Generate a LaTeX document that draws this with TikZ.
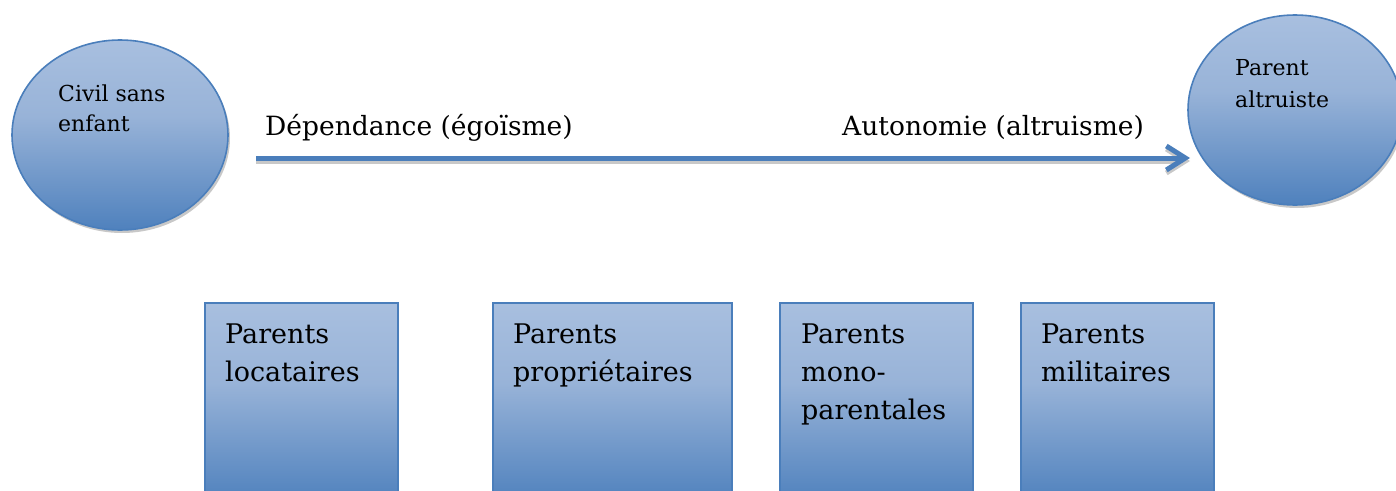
\documentclass[tikz,border=0pt]{standalone}
\usepackage{fontspec}
\setmainfont{DejaVu Serif}
\usetikzlibrary{shapes.geometric,arrows.meta}
\definecolor{otop}{RGB}{168,191,223}
\definecolor{omid}{RGB}{152,179,216}
\definecolor{obot}{RGB}{79,129,189}
\definecolor{oline}{RGB}{74,126,187}
\definecolor{oshadow}{RGB}{200,200,200}
\pgfdeclareverticalshading{officeblue}{100bp}{color(0bp)=(obot); color(25bp)=(obot); color(55bp)=(omid); color(75bp)=(otop); color(100bp)=(otop)}
\tikzset{
  blob/.style={ellipse, draw=oline, line width=1.6pt, shading=officeblue, inner sep=0pt},
  blobshadow/.style={ellipse, fill=oshadow, draw=none, inner sep=0pt},
  card/.style={rectangle, draw=oline, line width=1.6pt, shading=officeblue, inner sep=0pt, anchor=north west, minimum height=200pt},
  smalltxt/.style={inner sep=0pt, anchor=base west, align=left, font=\fontsize{22}{30}\selectfont},
  midtxt/.style={inner sep=0pt, anchor=base west, font=\fontsize{26.5}{32}\selectfont},
  boxtxt/.style={inner sep=0pt, anchor=base west, align=left, font=\fontsize{27}{38}\selectfont},
  tipstyle/.style={-{Straight Barb[length=19pt,width=24pt,line cap=butt,line join=miter]}},
}
\begin{document}
\begin{tikzpicture}[x=1pt,y=-1pt]
\useasboundingbox (0,0) rectangle (1396,490);
\clip (0,0) rectangle (1396,490);
% left circle
\node[blobshadow, minimum width=216pt, minimum height=190pt] (s1) at (122,138) {};
\node[blob, minimum width=216pt, minimum height=190pt] (c1) at (120,135) {};
\node[smalltxt] (t1) at (58,131) {Civil sans\\enfant};
% right circle
\node[blobshadow, minimum width=214pt, minimum height=190pt] (s2) at (1297,113) {};
\node[blob, minimum width=214pt, minimum height=190pt] (c2) at (1295,110) {};
\node[smalltxt, font=\fontsize{22}{32}\selectfont] (t2) at (1235,107) {Parent\\altruiste};
% arrow
\coordinate (a1) at (256,158);
\coordinate (a2) at (1190,158);
\coordinate (b1) at (256,161);
\coordinate (b2) at (1190,161);
\draw[oshadow, line width=5pt, tipstyle] (b1) -- (b2);
\draw[oline, line width=5pt, tipstyle] (a1) -- (a2);
\node[midtxt] (l1) at (265,135) {Dépendance (égoïsme)};
\node[midtxt] (l2) at (842,135) {Autonomie (altruisme)};
% boxes
\node[card, minimum width=193pt] (k1) at (204,302) {};
\node[card, minimum width=239pt] (k2) at (492,302) {};
\node[card, minimum width=193pt] (k3) at (779,302) {};
\node[card, minimum width=193pt] (k4) at (1020,302) {};
\node[boxtxt] (m1) at (225,381) {Parents\\locataires};
\node[boxtxt] (m2) at (513,381) {Parents\\propriétaires};
\node[boxtxt] (m3) at (801,419) {Parents\\mono-\\parentales};
\node[boxtxt] (m4) at (1041,381) {Parents\\militaires};
\end{tikzpicture}
\end{document}
